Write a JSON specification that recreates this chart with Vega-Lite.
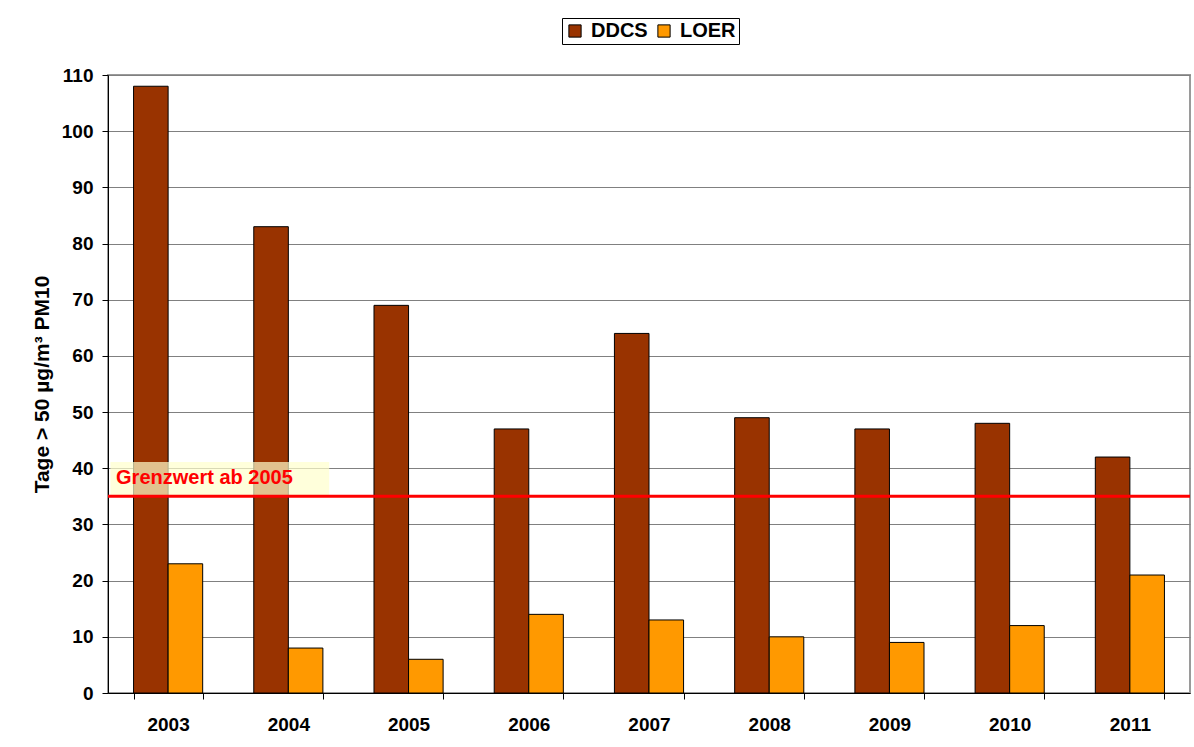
{
  "$schema": "https://vega.github.io/schema/vega-lite/v6.json",
  "autosize": {"type": "none"},
  "padding": {"left": 108, "top": 75, "right": 4, "bottom": 54},
  "width": 1082,
  "height": 618,
  "background": "white",
  "config": {
    "font": "Liberation Sans",
    "view": {"stroke": "#9a9a9a", "strokeWidth": 2}
  },
  "layer": [
    {
      "data": {"values": [
        {"year": "2003", "station": "DDCS", "value": 108},
        {"year": "2003", "station": "LOER", "value": 23},
        {"year": "2004", "station": "DDCS", "value": 83},
        {"year": "2004", "station": "LOER", "value": 8},
        {"year": "2005", "station": "DDCS", "value": 69},
        {"year": "2005", "station": "LOER", "value": 6},
        {"year": "2006", "station": "DDCS", "value": 47},
        {"year": "2006", "station": "LOER", "value": 14},
        {"year": "2007", "station": "DDCS", "value": 64},
        {"year": "2007", "station": "LOER", "value": 13},
        {"year": "2008", "station": "DDCS", "value": 49},
        {"year": "2008", "station": "LOER", "value": 10},
        {"year": "2009", "station": "DDCS", "value": 47},
        {"year": "2009", "station": "LOER", "value": 9},
        {"year": "2010", "station": "DDCS", "value": 48},
        {"year": "2010", "station": "LOER", "value": 12},
        {"year": "2011", "station": "DDCS", "value": 42},
        {"year": "2011", "station": "LOER", "value": 21}
      ]},
      "mark": {"type": "bar", "stroke": "black", "strokeWidth": 1},
      "encoding": {
        "x": {
          "field": "year", "type": "nominal",
          "scale": {"paddingInner": 0.425, "paddingOuter": 0.2125},
          "axis": {
            "title": null, "labelAngle": 0, "tickBand": "extent", "ticks": true,
            "labelFont": "Liberation Sans", "labelFontSize": 19, "labelFontWeight": "bold", "labelColor": "black",
            "domainColor": "black", "tickColor": "black", "tickSize": 6, "labelPadding": 16
          }
        },
        "xOffset": {"field": "station", "type": "nominal", "scale": {"paddingInner": 0, "paddingOuter": 0}},
        "y": {
          "field": "value", "type": "quantitative",
          "scale": {"domain": [0, 110], "nice": false},
          "axis": {
            "title": "Tage > 50 µg/m³ PM10", "values": [0,10,20,30,40,50,60,70,80,90,100,110],
            "titleFont": "Liberation Sans", "titleFontSize": 21, "titleFontWeight": "bold", "titleColor": "black", "titlePadding": 9,
            "labelFont": "Liberation Sans", "labelFontSize": 19, "labelFontWeight": "bold", "labelColor": "black",
            "domainColor": "black", "tickColor": "black", "tickSize": 6, "labelPadding": 9,
            "grid": true, "gridColor": "#808080", "gridWidth": 1
          }
        },
        "color": {
          "field": "station", "type": "nominal",
          "scale": {"domain": ["DDCS", "LOER"], "range": ["#993300", "#FF9900"]},
          "legend": {
            "title": null, "orient": "none", "legendX": 454, "legendY": -57, "direction": "horizontal",
            "symbolType": "square", "symbolSize": 150, "symbolStrokeColor": "black", "symbolStrokeWidth": 1, "symbolOpacity": 1,
            "labelFont": "Liberation Sans", "labelFontSize": 20, "labelFontWeight": "bold", "labelColor": "black",
            "strokeColor": "black", "fillColor": "white", "padding": 3, "columnPadding": 6, "labelOffset": 6
          }
        }
      }
    },
    {
      "data": {"values": [{"x0": 0.02, "x1": 1.84, "y0": 35.2, "y1": 41.1, "tx": 0.067, "ty": 38.3, "label": "Grenzwert ab 2005", "limit": 35}]},
      "layer": [
        {
          "mark": {"type": "rect", "fill": "#FFFFCC", "opacity": 0.7},
          "encoding": {
            "x": {"field": "x0", "type": "quantitative", "scale": {"domain": [0, 9], "nice": false, "zero": false}, "axis": null},
            "x2": {"field": "x1"},
            "y": {"field": "y0", "type": "quantitative"},
            "y2": {"field": "y1"}
          }
        },
        {
          "mark": {"type": "rule", "color": "#FF0000", "strokeWidth": 3},
          "encoding": {"y": {"field": "limit", "type": "quantitative"}}
        },
        {
          "mark": {"type": "text", "align": "left", "baseline": "middle", "color": "#FF0000", "font": "Liberation Sans", "fontSize": 20, "fontWeight": "bold"},
          "encoding": {
            "x": {"field": "tx", "type": "quantitative", "scale": {"domain": [0, 9], "nice": false, "zero": false}, "axis": null},
            "y": {"field": "ty", "type": "quantitative"},
            "text": {"field": "label"}
          }
        }
      ]
    }
  ],
  "resolve": {"scale": {"x": "independent"}}
}
